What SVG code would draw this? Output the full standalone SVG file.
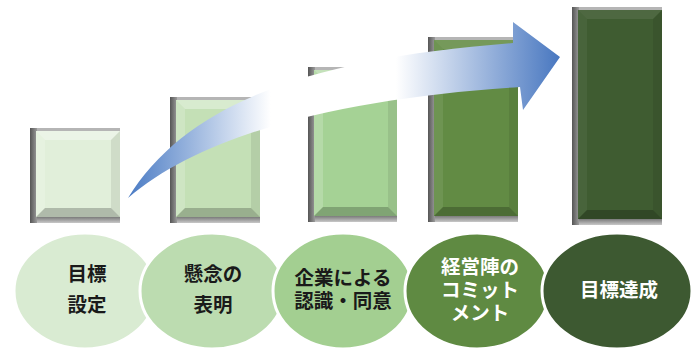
<svg xmlns="http://www.w3.org/2000/svg" width="697" height="352" viewBox="0 0 697 352">
<style>
.lt{fill:#ffffff;fill-opacity:.35}
.ll{fill:#ffffff;fill-opacity:.18}
.lr{fill:#000000;fill-opacity:.08}
.lb{fill:#000000;fill-opacity:.22}
.sh{fill:url(#shg)}
.st{fill:#b5b5b5}
.sb{fill:url(#sbg)}
.c{stroke:#ffffff;stroke-width:3}
.t{font-family:"Noto Sans CJK JP","Noto Sans",sans-serif;font-size:19.5px;font-weight:bold;text-anchor:middle}
.dk{fill:#1a1a1a}
.wh{fill:#ffffff}
</style>
<defs>
<linearGradient id="shg" x1="0" y1="0" x2="1" y2="0">
<stop offset="0" stop-color="#555555"/>
<stop offset="1" stop-color="#9a9a9a"/>
</linearGradient>
<linearGradient id="sbg" x1="0" y1="0" x2="0" y2="1">
<stop offset="0" stop-color="#6e6e6e"/>
<stop offset="1" stop-color="#c8c8c8"/>
</linearGradient>
<linearGradient id="ag" gradientUnits="userSpaceOnUse" x1="128" y1="0" x2="560" y2="0">
<stop offset="0" stop-color="#4a7bc4"/>
<stop offset="0.33" stop-color="#ffffff"/>
<stop offset="0.62" stop-color="#ffffff"/>
<stop offset="1" stop-color="#4877c0"/>
</linearGradient>
</defs>

<g id="bar1" transform="translate(30,128)">
<rect class="st" x="0" y="0" width="90" height="95"/>
<rect class="sb" x="0" y="88" width="90" height="7"/>
<rect class="sh" x="0" y="0" width="7" height="95"/>
<rect x="6" y="3" width="84" height="86" fill="#e1efda"/>
<polygon class="lt" points="6,3 90,3 81,12 15,12"/>
<polygon class="ll" points="6,3 15,12 15,80 6,89"/>
<polygon class="lr" points="90,3 90,89 81,80 81,12"/>
<polygon class="lb" points="6,89 90,89 81,80 15,80"/>
</g>

<g id="bar2" transform="translate(170,97)">
<rect class="st" x="0" y="0" width="90" height="126"/>
<rect class="sb" x="0" y="119" width="90" height="7"/>
<rect class="sh" x="0" y="0" width="7" height="126"/>
<rect x="6" y="3" width="84" height="117" fill="#c4e0b6"/>
<polygon class="lt" points="6,3 90,3 81,12 15,12"/>
<polygon class="ll" points="6,3 15,12 15,111 6,120"/>
<polygon class="lr" points="90,3 90,120 81,111 81,12"/>
<polygon class="lb" points="6,120 90,120 81,111 15,111"/>
</g>

<g id="bar3" transform="translate(308,67)">
<rect class="st" x="0" y="0" width="89" height="155"/>
<rect class="sb" x="0" y="148" width="89" height="7"/>
<rect class="sh" x="0" y="0" width="7" height="155"/>
<rect x="6" y="3" width="83" height="146" fill="#a5d295"/>
<polygon class="lt" points="6,3 89,3 80,12 15,12"/>
<polygon class="ll" points="6,3 15,12 15,140 6,149"/>
<polygon class="lr" points="89,3 89,149 80,140 80,12"/>
<polygon class="lb" points="6,149 89,149 80,140 15,140"/>
</g>

<g id="bar4" transform="translate(428,37)">
<rect class="st" x="0" y="0" width="90" height="185"/>
<rect class="sb" x="0" y="178" width="90" height="7"/>
<rect class="sh" x="0" y="0" width="7" height="185"/>
<rect x="6" y="3" width="84" height="176" fill="#628b44"/>
<polygon class="lt" points="6,3 90,3 81,12 15,12" style="fill-opacity:.12"/>
<polygon class="ll" points="6,3 15,12 15,170 6,179" style="fill-opacity:.08"/>
<polygon class="lr" points="90,3 90,179 81,170 81,12"/>
<polygon class="lb" points="6,179 90,179 81,170 15,170"/>
</g>

<g id="bar5" transform="translate(572,7)">
<rect class="st" x="0" y="0" width="90" height="218"/>
<rect class="sb" x="0" y="211" width="90" height="7"/>
<rect class="sh" x="0" y="0" width="7" height="218"/>
<rect x="6" y="3" width="84" height="209" fill="#3f5c31"/>
<polygon class="lt" points="6,3 90,3 81,12 15,12" style="fill-opacity:.08"/>
<polygon class="ll" points="6,3 15,12 15,203 6,212" style="fill-opacity:.05"/>
<polygon class="lr" points="90,3 90,212 81,203 81,12"/>
<polygon class="lb" points="6,212 90,212 81,203 15,203"/>
</g>

<g id="connectors">
<path d="M128,198 C188,100 318,58 513,43 L513,22 L560,57 L523,110 L520,87 C360,97 210,128 128,198 Z" fill="url(#ag)"/>
</g>

<g id="step1">
<ellipse class="c" cx="85" cy="291" rx="71" ry="58" fill="#d9ebd2"/>
<text class="t dk" x="87" y="281">目標</text>
<text class="t dk" x="87" y="312">設定</text>
</g>
<g id="step2">
<ellipse class="c" cx="212" cy="291" rx="72" ry="58" fill="#bcdcb0"/>
<text class="t dk" x="213" y="281">懸念の</text>
<text class="t dk" x="213" y="312">表明</text>
</g>
<g id="step3">
<ellipse class="c" cx="343" cy="291" rx="70" ry="58" fill="#a3cf91"/>
<text class="t dk" x="343" y="285">企業による</text>
<text class="t dk" x="343" y="308">認識・同意</text>
</g>
<g id="step4">
<ellipse class="c" cx="477" cy="291" rx="72" ry="58" fill="#5f8a42"/>
<text class="t wh" x="480" y="274">経営陣の</text>
<text class="t wh" x="480" y="297">コミット</text>
<text class="t wh" x="480" y="320">メント</text>
</g>
<g id="step5">
<ellipse class="c" cx="617" cy="291" rx="75" ry="58" fill="#3d5931"/>
<text class="t wh" x="619" y="297">目標達成</text>
</g>
</svg>
